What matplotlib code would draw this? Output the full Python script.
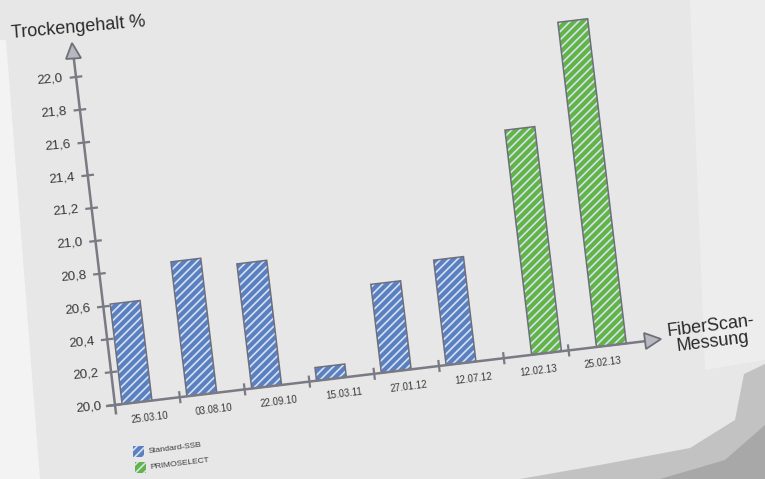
import matplotlib
matplotlib.use("Agg")
import matplotlib.pyplot as plt
import numpy as np
from matplotlib.transforms import Affine2D
from matplotlib.markers import MarkerStyle
from matplotlib.patches import Polygon, Rectangle

plt.rcParams['font.family'] = ['Liberation Sans', 'DejaVu Sans']
plt.rcParams['hatch.linewidth'] = 1.2

# data
messungen = ["25.03.10", "03.08.10", "22.09.10", "15.03.11",
             "27.01.12", "12.07.12", "12.02.13", "25.02.13"]
standard_ssb = [20.61, 20.82, 20.76, 20.08, 20.54, 20.64, np.nan, np.nan]
primoselect = [np.nan, np.nan, np.nan, np.nan, np.nan, np.nan, 21.37, 21.98]
y_ticks = [20.0, 20.2, 20.4, 20.6, 20.8, 21.0, 21.2, 21.4, 21.6, 21.8, 22.0]
y_base = 20.0

blue = '#5b80c2'
green = '#62b446'
stripe = '#d6e2f0'
edge = '#6e6e7c'
axis_col = '#7a7a84'
txt_col = '#3a3a3a'

fig = plt.figure(figsize=(7.65, 4.79), dpi=100)
fig.patch.set_facecolor('#e7e7e7')
ax = fig.add_axes([0, 0, 1, 1])
ax.set_xlim(0, 765)
ax.set_ylim(479, 0)
ax.axis('off')

# paper edges / shadow
ax.add_patch(Polygon([(0, 40), (6, 40), (40, 479), (0, 479)], closed=True,
                     fc='#f3f3f3', ec='none', zorder=0))
ax.add_patch(Polygon([(690, 0), (765, 0), (765, 360), (705, 370)], closed=True,
                     fc='#ededed', ec='none', zorder=0))
ax.add_patch(Polygon([(744, 374), (765, 364), (765, 479), (520, 479),
                      (600, 465), (690, 448), (735, 420)], closed=True,
                     fc='#c2c2c2', ec='none', zorder=0))
ax.add_patch(Polygon([(765, 425), (765, 479), (660, 479), (725, 460)], closed=True,
                     fc='#a8a8a8', ec='none', zorder=0))

# the chart sits skewed on the page: (slot, value) -> pixel
skew = Affine2D.from_values(64.8, -7.8, -19.5, -164.0,
                            115 + 19.5 * y_base, 405 + 164.0 * y_base)
tr = skew + ax.transData

n = len(messungen)
pos = np.arange(n)
w = 0.46

for vals, col, off in [(standard_ssb, blue, -0.16), (primoselect, green, 0.16)]:
    vals = np.array(vals)
    m = ~np.isnan(vals)
    x = pos[m] + 0.5 + off
    h = vals[m] - y_base
    ax.bar(x, h, bottom=y_base, width=w, color=col, edgecolor=stripe,
           hatch='////', linewidth=0, transform=tr, zorder=2)
    ax.bar(x, h, bottom=y_base, width=w, fill=False, edgecolor=edge,
           linewidth=1.1, transform=tr, zorder=3)

# axes
ax.plot([-0.12, 8.25], [y_base, y_base], color=axis_col, lw=1.8, transform=tr, zorder=4)
ax.plot([0, 0], [19.95, 22.12], color=axis_col, lw=1.8, transform=tr, zorder=4)
ax.plot([8.3], [y_base], marker=MarkerStyle('>', transform=Affine2D().rotate_deg(6.9)),
        ms=11, mfc='#b7b7bf', mec='#6f6f78', mew=1.3, transform=tr, zorder=5)
ax.plot([0], [22.16], marker=MarkerStyle('>', transform=Affine2D().rotate_deg(96.8)),
        ms=11, mfc='#b7b7bf', mec='#6f6f78', mew=1.3, transform=tr, zorder=5)

for t in y_ticks:
    ax.plot([-0.08, 0.08], [t, t], color=axis_col, lw=1.6, transform=tr, zorder=4)
    ax.text(-0.2, t, f"{t:.1f}".replace('.', ','), transform=tr, ha='right',
            va='center', rotation=5, rotation_mode='anchor', fontsize=9.5,
            color=txt_col)

for i in range(1, n):
    ax.plot([i, i], [19.97, 20.03], color=axis_col, lw=1.6, transform=tr, zorder=4)

for i, lab in enumerate(messungen):
    ax.text(i + 0.5, 19.9, lab, transform=tr, ha='center', va='center',
            rotation=7, rotation_mode='anchor', fontsize=7, color=txt_col)

# axis titles
ax.text(12, 38, "Trockengehalt %", ha='left', va='baseline', rotation=5,
        rotation_mode='anchor', fontsize=13, color='#2a2a2a')
ax.text(712, 334, "FiberScan-\nMessung", ha='center', va='center', rotation=7,
        rotation_mode='anchor', fontsize=13, color='#2a2a2a', linespacing=0.95)

# legend
for (lx, ly), col, lab in [((133, 446), blue, "Standard-SSB"),
                           ((135, 462), green, "PRIMOSELECT")]:
    ax.add_patch(Rectangle((lx, ly), 11, 11, fc=col, ec=stripe, lw=0,
                           hatch='////', zorder=3))
    ax.text(lx + 15, ly + 6, lab, ha='left', va='center', rotation=7,
            rotation_mode='anchor', fontsize=6, color=txt_col)

fig.savefig("out.png", dpi=100, facecolor=fig.get_facecolor())
